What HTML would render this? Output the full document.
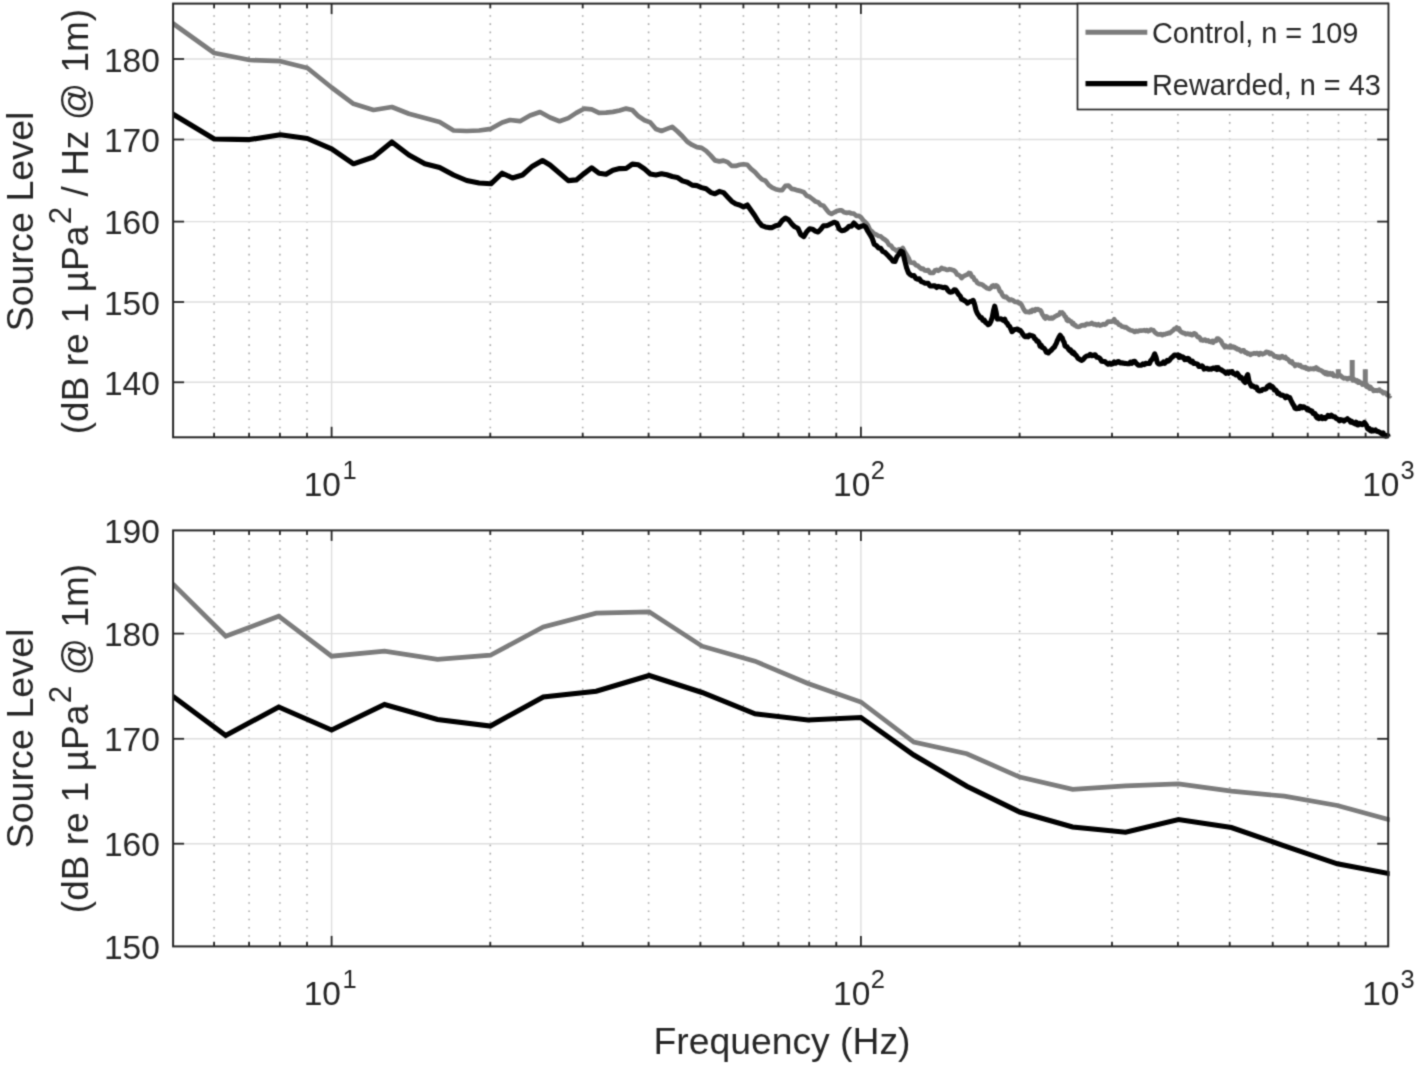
<!DOCTYPE html>
<html lang="en"><head><meta charset="utf-8"><title>Source Level vs Frequency</title>
<style>html,body{margin:0;padding:0;background:#fff}svg{display:block}</style></head>
<body>
<svg width="1416" height="1066" viewBox="0 0 1416 1066" font-family="'Liberation Sans', sans-serif" fill="#262626">
<rect width="1416" height="1066" fill="#fff"/>
<defs><filter id="soft" filterUnits="userSpaceOnUse" x="0" y="0" width="1416" height="1066" color-interpolation-filters="sRGB"><feConvolveMatrix order="3" kernelMatrix="0.032 0.114 0.032 0.114 0.416 0.114 0.032 0.114 0.032" divisor="1" edgeMode="duplicate" preserveAlpha="false"/></filter></defs>
<g filter="url(#soft)">
<rect width="1416" height="1066" fill="#fff"/>
<defs><clipPath id="ct"><rect x="173.1" y="3.6" width="1219.1" height="435.7"/></clipPath><clipPath id="cb"><rect x="173.1" y="530.4" width="1216.6" height="416.0"/></clipPath></defs>
<line x1="214.1" y1="3.6" x2="214.1" y2="437.3" stroke="#a8a8a8" stroke-width="1.6" stroke-dasharray="1.6 6.63" stroke-dashoffset="-3.30"/>
<line x1="249.1" y1="3.6" x2="249.1" y2="437.3" stroke="#a8a8a8" stroke-width="1.6" stroke-dasharray="1.6 6.63" stroke-dashoffset="-3.30"/>
<line x1="279.9" y1="3.6" x2="279.9" y2="437.3" stroke="#a8a8a8" stroke-width="1.6" stroke-dasharray="1.6 6.63" stroke-dashoffset="-3.30"/>
<line x1="307.0" y1="3.6" x2="307.0" y2="437.3" stroke="#a8a8a8" stroke-width="1.6" stroke-dasharray="1.6 6.63" stroke-dashoffset="-3.30"/>
<line x1="490.3" y1="3.6" x2="490.3" y2="437.3" stroke="#a8a8a8" stroke-width="1.6" stroke-dasharray="1.6 6.63" stroke-dashoffset="-3.30"/>
<line x1="582.7" y1="3.6" x2="582.7" y2="437.3" stroke="#a8a8a8" stroke-width="1.6" stroke-dasharray="1.6 6.63" stroke-dashoffset="-3.30"/>
<line x1="648.6" y1="3.6" x2="648.6" y2="437.3" stroke="#a8a8a8" stroke-width="1.6" stroke-dasharray="1.6 6.63" stroke-dashoffset="-3.30"/>
<line x1="700.4" y1="3.6" x2="700.4" y2="437.3" stroke="#a8a8a8" stroke-width="1.6" stroke-dasharray="1.6 6.63" stroke-dashoffset="-3.30"/>
<line x1="743.4" y1="3.6" x2="743.4" y2="437.3" stroke="#a8a8a8" stroke-width="1.6" stroke-dasharray="1.6 6.63" stroke-dashoffset="-3.30"/>
<line x1="778.4" y1="3.6" x2="778.4" y2="437.3" stroke="#a8a8a8" stroke-width="1.6" stroke-dasharray="1.6 6.63" stroke-dashoffset="-3.30"/>
<line x1="809.2" y1="3.6" x2="809.2" y2="437.3" stroke="#a8a8a8" stroke-width="1.6" stroke-dasharray="1.6 6.63" stroke-dashoffset="-3.30"/>
<line x1="836.3" y1="3.6" x2="836.3" y2="437.3" stroke="#a8a8a8" stroke-width="1.6" stroke-dasharray="1.6 6.63" stroke-dashoffset="-3.30"/>
<line x1="1019.6" y1="3.6" x2="1019.6" y2="437.3" stroke="#a8a8a8" stroke-width="1.6" stroke-dasharray="1.6 6.63" stroke-dashoffset="-3.30"/>
<line x1="1112.0" y1="3.6" x2="1112.0" y2="437.3" stroke="#a8a8a8" stroke-width="1.6" stroke-dasharray="1.6 6.63" stroke-dashoffset="-3.30"/>
<line x1="1177.9" y1="3.6" x2="1177.9" y2="437.3" stroke="#a8a8a8" stroke-width="1.6" stroke-dasharray="1.6 6.63" stroke-dashoffset="-3.30"/>
<line x1="1229.7" y1="3.6" x2="1229.7" y2="437.3" stroke="#a8a8a8" stroke-width="1.6" stroke-dasharray="1.6 6.63" stroke-dashoffset="-3.30"/>
<line x1="1272.7" y1="3.6" x2="1272.7" y2="437.3" stroke="#a8a8a8" stroke-width="1.6" stroke-dasharray="1.6 6.63" stroke-dashoffset="-3.30"/>
<line x1="1307.7" y1="3.6" x2="1307.7" y2="437.3" stroke="#a8a8a8" stroke-width="1.6" stroke-dasharray="1.6 6.63" stroke-dashoffset="-3.30"/>
<line x1="1338.5" y1="3.6" x2="1338.5" y2="437.3" stroke="#a8a8a8" stroke-width="1.6" stroke-dasharray="1.6 6.63" stroke-dashoffset="-3.30"/>
<line x1="1365.6" y1="3.6" x2="1365.6" y2="437.3" stroke="#a8a8a8" stroke-width="1.6" stroke-dasharray="1.6 6.63" stroke-dashoffset="-3.30"/>
<line x1="331.6" y1="3.6" x2="331.6" y2="437.3" stroke="#dedede" stroke-width="1.4"/>
<line x1="860.9" y1="3.6" x2="860.9" y2="437.3" stroke="#dedede" stroke-width="1.4"/>
<line x1="173.1" y1="59.0" x2="1388.2" y2="59.0" stroke="#dedede" stroke-width="1.4"/>
<line x1="173.1" y1="139.5" x2="1388.2" y2="139.5" stroke="#dedede" stroke-width="1.4"/>
<line x1="173.1" y1="221.6" x2="1388.2" y2="221.6" stroke="#dedede" stroke-width="1.4"/>
<line x1="173.1" y1="302.0" x2="1388.2" y2="302.0" stroke="#dedede" stroke-width="1.4"/>
<line x1="173.1" y1="382.3" x2="1388.2" y2="382.3" stroke="#dedede" stroke-width="1.4"/>
<g clip-path="url(#ct)" fill="none" stroke-linejoin="round" stroke-linecap="butt">
<polyline points="172.3,23.0 214.2,53.0 249.6,60.0 280.3,61.2 307.4,68.0 331.6,87.5 353.5,103.8 373.5,110.0 391.9,107.0 408.9,113.8 424.8,118.0 439.6,122.0 453.6,130.5 466.7,131.0 479.1,130.5 490.9,128.8 502.2,122.5 510.0,120.0 520.0,121.2 530.0,115.5 540.0,112.0 550.0,117.5 559.5,121.2 568.3,118.1 576.3,112.9 584.1,108.7 591.7,109.3 599.0,112.9 606.0,112.7 612.9,111.9 619.6,110.5 626.1,108.6 632.3,110.0 638.5,116.3 644.5,120.2 650.3,122.4 655.9,129.0 661.5,131.0 666.9,128.9 672.2,126.9 677.3,131.2 682.4,136.2 687.3,141.8 692.2,144.9 696.9,147.1 701.6,147.9 706.1,150.9 710.6,155.4 715.0,160.4 719.3,161.4 723.5,160.6 727.6,162.1 731.7,165.9 735.7,165.9 739.6,164.8 743.5,164.2 747.3,164.8 751.0,168.9 754.7,171.8 758.3,175.9 761.9,179.4 765.4,180.8 768.8,185.1 772.2,187.7 775.6,189.2 778.9,190.1 782.2,190.1 785.4,185.9 788.6,185.6 791.7,188.9 794.8,189.4 797.8,190.4 800.8,191.1 803.8,192.3 806.7,195.8 809.6,196.8 812.5,199.0 815.3,201.4 818.1,202.2 820.8,205.1 823.5,205.8 826.2,209.2 828.9,212.6 831.5,213.9 834.1,212.5 836.7,211.1 839.2,210.4 841.7,210.4 844.2,212.3 846.7,212.9 849.1,212.5 851.5,213.5 853.9,213.6 856.3,215.9 858.6,215.8 860.9,217.3 863.2,220.3 865.5,222.2 867.7,224.9 869.9,229.7 872.1,231.6 874.3,233.8 876.5,234.7 878.6,236.0 880.7,236.3 882.8,238.4 884.9,239.6 887.0,241.4 889.0,244.9 891.0,245.7 893.0,248.5 895.0,249.5 897.0,251.1 898.9,249.3 900.9,249.7 902.8,248.0 904.7,251.7 906.6,254.8 908.5,257.9 910.3,262.4 912.2,262.8 914.0,262.7 915.8,265.2 917.6,265.6 919.4,267.2 921.2,268.9 923.0,268.5 924.7,270.5 926.5,270.6 928.2,270.1 929.9,272.8 931.6,272.8 933.3,272.9 934.9,270.5 936.6,269.8 938.2,270.9 939.9,269.8 941.5,267.9 943.1,268.8 944.7,268.9 946.3,269.8 947.9,269.9 949.5,269.2 951.0,269.5 952.6,270.1 954.1,270.6 955.6,271.9 957.1,274.5 958.7,275.0 960.2,276.2 961.6,278.1 963.1,276.6 964.6,275.7 966.0,275.1 967.5,274.6 968.9,272.9 970.4,273.3 971.8,276.7 973.2,277.1 974.6,280.0 976.0,280.7 977.4,282.9 978.8,283.7 980.2,284.2 981.5,284.3 982.9,285.1 984.2,286.3 985.6,287.1 986.9,288.2 988.2,288.5 989.5,288.9 990.8,287.9 992.2,286.0 993.4,285.5 994.7,286.8 996.0,285.3 997.3,286.0 998.6,288.1 999.8,291.2 1001.1,292.0 1002.3,294.9 1003.6,296.7 1004.8,297.2 1006.0,296.6 1007.2,297.9 1008.4,299.0 1009.7,300.2 1010.9,299.5 1012.0,299.9 1013.2,300.4 1014.4,301.5 1015.6,302.0 1016.8,302.1 1017.9,301.8 1019.1,303.4 1020.2,303.1 1021.4,304.6 1022.5,306.8 1023.7,309.2 1024.8,310.9 1025.9,311.9 1027.0,311.8 1028.1,312.1 1029.3,312.3 1030.4,311.0 1031.5,311.8 1032.5,309.9 1033.6,310.0 1034.7,310.8 1035.8,309.1 1036.9,309.7 1037.9,309.1 1039.0,310.0 1040.0,310.0 1041.1,311.1 1042.1,314.0 1043.2,315.6 1044.2,317.3 1045.3,318.5 1046.3,316.4 1047.3,316.9 1048.3,317.8 1049.3,318.5 1050.4,318.5 1051.4,317.6 1052.4,318.4 1053.4,317.8 1054.4,316.8 1055.3,316.3 1056.3,315.8 1057.3,315.0 1058.3,315.1 1059.3,314.4 1060.2,312.5 1061.2,313.1 1062.1,312.4 1063.1,313.5 1064.1,314.8 1065.0,316.8 1065.9,317.0 1066.9,320.2 1067.8,320.9 1068.8,319.7 1069.7,320.7 1070.6,321.6 1071.5,321.7 1072.4,323.8 1073.4,323.3 1074.3,325.2 1075.2,325.0 1076.1,326.2 1077.9,326.9 1079.7,326.7 1081.4,325.4 1083.2,325.2 1084.9,325.4 1086.7,323.9 1088.4,324.1 1090.1,324.0 1091.8,322.9 1093.4,324.3 1095.1,324.1 1096.8,325.1 1098.4,324.2 1100.0,325.6 1101.6,325.1 1103.3,324.0 1104.9,324.6 1106.4,323.5 1108.0,321.6 1109.6,321.7 1111.1,321.6 1112.7,321.4 1114.2,319.2 1115.7,322.5 1117.2,322.2 1118.7,324.6 1120.2,324.9 1121.7,326.4 1123.2,326.7 1124.7,327.4 1126.1,327.2 1127.6,328.5 1129.0,329.4 1130.4,330.2 1131.8,330.5 1133.3,331.0 1134.7,331.9 1136.0,330.8 1137.4,331.5 1138.8,330.9 1140.2,330.6 1141.5,330.6 1142.9,330.5 1144.2,330.2 1145.6,330.8 1146.9,330.2 1148.2,331.3 1149.5,330.6 1150.8,329.5 1152.1,329.9 1153.4,330.3 1154.7,332.1 1156.0,333.2 1157.3,334.1 1158.5,334.4 1159.8,334.3 1161.0,334.2 1162.3,335.2 1163.5,334.2 1164.7,334.5 1166.0,333.7 1167.2,333.7 1168.4,332.9 1169.6,333.2 1170.8,332.2 1172.0,331.2 1173.2,330.3 1174.3,328.9 1175.5,328.9 1176.7,327.6 1177.8,329.3 1179.0,328.5 1180.1,330.9 1181.3,332.0 1182.4,332.5 1183.6,333.2 1184.7,333.2 1185.8,334.1 1186.9,333.9 1188.0,333.6 1189.1,334.4 1190.2,333.8 1191.3,335.1 1192.4,335.1 1193.5,333.7 1194.6,333.3 1195.7,334.1 1196.7,335.7 1197.8,337.1 1198.9,336.9 1199.9,337.9 1201.0,340.1 1202.0,339.9 1203.0,340.5 1204.1,339.8 1205.1,339.7 1206.1,340.8 1207.2,340.9 1208.2,340.4 1209.2,341.6 1210.2,341.6 1211.2,342.0 1212.2,341.0 1213.2,342.5 1214.2,340.8 1215.2,340.9 1216.2,340.8 1217.1,338.5 1218.1,338.6 1219.1,339.2 1220.0,340.3 1221.0,341.0 1222.0,343.1 1222.9,344.7 1223.9,345.8 1224.8,347.2 1225.8,345.8 1226.7,347.0 1227.6,347.1 1228.6,346.9 1229.5,347.4 1230.4,345.7 1231.3,347.3 1232.2,347.4 1233.2,346.7 1234.1,347.0 1235.0,348.2 1235.9,347.9 1237.2,349.3 1238.6,349.1 1239.9,350.3 1241.2,351.3 1242.5,350.3 1243.8,350.4 1245.1,352.6 1246.4,352.4 1247.7,353.8 1249.0,353.6 1250.3,354.8 1251.5,353.9 1252.8,353.9 1254.0,353.1 1255.3,353.6 1256.5,353.0 1257.7,353.3 1259.0,354.7 1260.2,353.1 1261.4,353.5 1262.6,354.3 1263.8,353.6 1265.0,353.3 1266.2,351.9 1267.3,352.1 1268.5,352.3 1269.7,354.0 1270.9,353.0 1272.0,353.9 1273.2,354.7 1274.3,356.5 1275.4,356.6 1276.6,356.4 1277.7,357.5 1278.8,356.7 1279.9,358.0 1281.1,356.8 1282.2,356.1 1283.3,357.3 1284.4,357.8 1285.4,357.1 1286.5,358.8 1287.6,359.1 1288.7,360.0 1289.8,361.8 1290.8,362.3 1291.9,361.5 1292.9,363.8 1294.0,364.1 1295.0,366.0 1296.1,364.6 1297.1,364.9 1298.1,364.7 1299.2,365.7 1300.2,365.2 1301.2,366.6 1302.2,367.1 1303.2,367.1 1304.2,367.7 1305.2,367.1 1306.2,368.6 1307.2,368.1 1308.2,369.3 1309.2,369.3 1310.2,368.6 1311.1,368.9 1312.1,368.8 1313.1,368.6 1314.0,369.1 1315.0,368.0 1316.0,367.5 1316.9,369.0 1317.9,368.7 1318.8,370.0 1319.7,369.8 1320.7,370.3 1321.6,370.9 1322.5,371.4 1323.5,372.6 1324.4,372.2 1325.3,373.8 1326.2,372.4 1327.1,374.4 1328.0,373.1 1328.9,374.3 1330.1,373.2 1331.3,374.5 1332.5,373.5 1333.7,375.8 1334.8,375.9 1336.0,375.8 1337.2,376.3 1338.3,374.9 1339.5,375.3 1340.6,375.6 1341.8,376.9 1342.9,377.8 1344.0,378.3 1345.1,378.0 1346.3,378.3 1347.4,379.1 1348.5,378.2 1349.6,378.2 1350.7,378.4 1351.8,378.6 1352.8,380.4 1353.9,379.2 1355.0,379.8 1356.1,381.3 1357.1,380.6 1358.2,382.6 1359.2,381.6 1360.3,382.7 1361.3,382.8 1362.4,384.6 1363.4,383.9 1364.4,384.6 1365.5,385.3 1366.5,386.7 1367.5,385.3 1368.5,387.3 1369.5,388.4 1370.5,387.1 1371.5,388.9 1372.5,389.1 1373.5,390.8 1374.5,390.3 1375.5,390.7 1376.5,390.3 1377.4,390.8 1378.4,390.1 1379.4,389.6 1380.3,391.1 1381.3,391.0 1382.2,391.8 1383.2,393.2 1384.1,392.5 1385.1,392.5 1386.0,393.2 1387.0,394.9 1387.9,395.3 1388.8,395.5 1389.7,396.1 1390.0,395.3" stroke="#7c7c7c" stroke-width="4.7"/>
<line x1="1338.3" y1="369.2" x2="1338.3" y2="376.7" stroke="#7c7c7c" stroke-width="5"/>
<line x1="1352.2" y1="360.0" x2="1352.2" y2="380.5" stroke="#7c7c7c" stroke-width="5"/>
<line x1="1365.3" y1="369.2" x2="1365.3" y2="386.2" stroke="#7c7c7c" stroke-width="5"/>
<polyline points="172.3,113.8 214.2,139.0 249.6,139.6 280.3,134.8 307.4,138.5 331.6,148.8 353.5,163.8 373.5,157.0 391.9,142.0 408.9,155.0 424.8,163.8 439.6,167.5 453.6,175.0 466.7,180.5 479.1,183.0 490.9,183.8 502.2,173.2 512.5,178.0 522.5,175.0 532.5,166.2 542.5,160.5 550.0,165.0 568.3,180.6 576.3,179.9 584.1,173.6 591.7,167.8 599.0,173.3 606.0,174.2 612.9,170.2 619.6,168.6 626.1,168.5 632.3,164.1 638.5,164.8 644.5,168.9 650.3,174.0 655.9,174.9 661.5,173.7 666.9,174.8 672.2,176.5 677.3,177.4 682.4,180.9 687.3,182.2 692.2,185.1 696.9,185.6 701.6,187.6 706.1,188.8 710.6,192.3 715.0,193.8 719.3,191.4 723.5,192.6 727.6,197.0 731.7,201.3 735.7,203.9 739.6,205.0 743.5,206.9 747.3,205.0 751.0,210.3 754.7,215.5 758.3,221.4 761.9,225.7 765.4,226.9 768.8,227.6 772.2,227.6 775.6,225.8 778.9,225.1 782.2,220.6 785.4,218.0 788.6,219.8 791.7,223.8 794.8,226.8 797.8,228.2 800.8,234.6 803.8,236.6 806.7,231.8 809.6,228.8 812.5,229.2 815.3,231.1 818.1,232.0 820.8,229.3 823.5,225.7 826.2,225.8 828.9,224.8 831.5,223.5 834.1,222.2 836.7,223.1 839.2,229.0 841.7,230.8 844.2,230.2 846.7,228.8 849.1,226.2 851.5,226.2 853.9,223.0 856.3,225.5 858.6,227.4 860.9,226.4 863.2,225.6 865.5,226.7 867.7,231.0 869.9,234.5 872.1,238.1 874.3,244.3 876.5,245.6 878.6,248.0 880.7,248.3 882.8,251.5 884.9,252.4 887.0,254.5 889.0,256.6 891.0,258.6 893.0,261.3 895.0,261.4 897.0,256.6 898.9,254.4 900.9,251.1 902.8,252.0 904.7,260.4 906.6,267.8 908.5,272.9 910.3,274.6 912.2,275.7 914.0,275.6 915.8,278.4 917.6,279.3 919.4,278.8 921.2,281.5 923.0,282.1 924.7,283.1 926.5,283.3 928.2,283.4 929.9,285.9 931.6,286.0 933.3,285.9 934.9,285.8 936.6,287.5 938.2,286.4 939.9,286.8 941.5,287.1 943.1,287.7 944.7,287.3 946.3,287.7 947.9,290.4 949.5,291.9 951.0,292.1 952.6,291.7 954.1,289.8 955.6,290.1 957.1,292.1 958.7,294.6 960.2,296.0 961.6,299.4 963.1,299.8 964.6,300.7 966.0,301.6 967.5,303.2 968.9,302.2 970.4,301.5 971.8,301.1 973.2,300.4 974.6,304.3 976.0,310.2 977.4,313.5 978.8,315.4 980.2,317.6 981.5,317.6 982.9,320.4 984.2,320.0 985.6,322.4 986.9,323.3 988.2,324.7 989.5,324.0 990.8,321.6 992.2,317.7 993.4,311.2 994.7,306.1 996.0,311.5 997.3,319.1 998.6,318.9 999.8,319.0 1001.1,318.9 1002.3,319.7 1003.6,320.4 1004.8,319.3 1006.0,322.4 1007.2,323.2 1008.4,325.5 1009.7,326.5 1010.9,329.1 1012.0,331.7 1013.2,330.8 1014.4,329.6 1015.6,329.5 1016.8,329.0 1017.9,329.2 1019.1,330.4 1020.2,330.4 1021.4,331.8 1022.5,333.7 1023.7,335.4 1024.8,336.7 1025.9,336.8 1027.0,335.9 1028.1,336.8 1029.3,335.1 1030.4,335.3 1031.5,335.8 1032.5,335.9 1033.6,336.3 1034.7,338.8 1035.8,339.3 1036.9,341.3 1037.9,341.1 1039.0,342.5 1040.0,346.1 1041.1,345.1 1042.1,347.5 1043.2,347.7 1044.2,348.5 1045.3,350.0 1046.3,352.3 1047.3,352.5 1048.3,353.0 1049.3,351.9 1050.4,350.8 1051.4,350.2 1052.4,348.9 1053.4,347.8 1054.4,347.1 1055.3,345.1 1056.3,343.5 1057.3,340.6 1058.3,338.7 1059.3,336.6 1060.2,335.3 1061.2,337.2 1062.1,337.7 1063.1,340.4 1064.1,342.2 1065.0,345.9 1065.9,346.6 1066.9,346.5 1067.8,348.0 1068.8,349.5 1069.7,350.5 1070.6,349.9 1071.5,352.1 1072.4,353.2 1073.4,352.3 1074.3,353.3 1075.2,355.0 1076.1,355.2 1077.9,358.2 1079.7,359.3 1081.4,360.4 1083.2,359.4 1084.9,357.3 1086.7,356.0 1088.4,355.8 1090.1,354.3 1091.8,355.7 1093.4,355.2 1095.1,354.8 1096.8,357.3 1098.4,357.5 1100.0,358.4 1101.6,361.2 1103.3,361.4 1104.9,361.5 1106.4,363.0 1108.0,364.2 1109.6,363.0 1111.1,364.2 1112.7,363.8 1114.2,361.9 1115.7,363.2 1117.2,362.0 1118.7,361.5 1120.2,363.0 1121.7,362.9 1123.2,363.1 1124.7,363.4 1126.1,363.5 1127.6,363.7 1129.0,363.8 1130.4,362.2 1131.8,363.3 1133.3,361.5 1134.7,361.3 1136.0,363.1 1137.4,364.3 1138.8,365.3 1140.2,365.3 1141.5,365.3 1142.9,363.9 1144.2,364.6 1145.6,363.3 1146.9,363.6 1148.2,363.4 1149.5,363.5 1150.8,360.4 1152.1,359.4 1153.4,356.8 1154.7,353.9 1156.0,357.1 1157.3,362.5 1158.5,363.9 1159.8,364.1 1161.0,363.8 1162.3,363.3 1163.5,362.0 1164.7,363.3 1166.0,361.9 1167.2,360.5 1168.4,361.2 1169.6,360.1 1170.8,358.4 1172.0,357.3 1173.2,356.4 1174.3,355.0 1175.5,355.0 1176.7,355.5 1177.8,354.9 1179.0,357.4 1180.1,355.8 1181.3,357.1 1182.4,356.8 1183.6,357.5 1184.7,359.7 1185.8,358.6 1186.9,359.6 1188.0,358.3 1189.1,359.1 1190.2,361.3 1191.3,362.0 1192.4,361.1 1193.5,363.4 1194.6,363.3 1195.7,363.6 1196.7,363.9 1197.8,364.4 1198.9,366.4 1199.9,366.3 1201.0,366.4 1202.0,365.8 1203.0,366.8 1204.1,369.0 1205.1,368.5 1206.1,368.6 1207.2,368.3 1208.2,369.3 1209.2,369.3 1210.2,368.9 1211.2,369.1 1212.2,368.6 1213.2,368.1 1214.2,368.0 1215.2,368.8 1216.2,367.6 1217.1,369.5 1218.1,367.6 1219.1,368.8 1220.0,369.3 1221.0,369.7 1222.0,370.4 1222.9,370.8 1223.9,371.7 1224.8,371.9 1225.8,373.3 1226.7,373.0 1227.6,372.0 1228.6,373.2 1229.5,371.9 1230.4,372.2 1231.3,371.8 1232.2,371.6 1233.2,373.5 1234.1,373.7 1235.0,374.2 1235.9,374.9 1237.2,373.3 1238.6,375.3 1239.9,377.8 1241.2,377.4 1242.5,379.1 1243.8,381.2 1245.1,382.5 1246.4,377.4 1247.7,374.6 1249.0,381.3 1250.3,384.0 1251.5,386.2 1252.8,385.8 1254.0,386.7 1255.3,387.4 1256.5,387.0 1257.7,390.0 1259.0,390.9 1260.2,390.9 1261.4,390.6 1262.6,389.4 1263.8,389.2 1265.0,389.3 1266.2,388.7 1267.3,386.7 1268.5,385.7 1269.7,385.1 1270.9,387.2 1272.0,386.3 1273.2,387.5 1274.3,389.9 1275.4,389.7 1276.6,391.1 1277.7,393.5 1278.8,393.1 1279.9,394.5 1281.1,395.1 1282.2,395.1 1283.3,395.7 1284.4,396.1 1285.4,397.8 1286.5,396.1 1287.6,396.6 1288.7,397.5 1289.8,397.6 1290.8,400.1 1291.9,402.2 1292.9,404.2 1294.0,405.8 1295.0,408.3 1296.1,408.8 1297.1,408.7 1298.1,407.9 1299.2,408.4 1300.2,406.4 1301.2,406.5 1302.2,407.8 1303.2,406.7 1304.2,407.0 1305.2,408.0 1306.2,408.0 1307.2,409.8 1308.2,409.0 1309.2,410.5 1310.2,410.4 1311.1,411.5 1312.1,411.2 1313.1,413.5 1314.0,413.7 1315.0,413.5 1316.0,416.3 1316.9,417.7 1317.9,416.5 1318.8,418.6 1319.7,417.7 1320.7,418.1 1321.6,416.8 1322.5,418.6 1323.5,417.8 1324.4,417.6 1325.3,418.5 1326.2,417.2 1327.1,416.9 1328.0,415.4 1328.9,416.3 1330.1,416.4 1331.3,415.1 1332.5,416.3 1333.7,416.8 1334.8,416.7 1336.0,418.3 1337.2,418.9 1338.3,419.3 1339.5,420.8 1340.6,419.6 1341.8,420.1 1342.9,420.0 1344.0,421.0 1345.1,420.0 1346.3,419.6 1347.4,418.7 1348.5,419.9 1349.6,420.2 1350.7,422.1 1351.8,421.4 1352.8,422.9 1353.9,422.9 1355.0,423.9 1356.1,422.1 1357.1,424.7 1358.2,425.0 1359.2,423.4 1360.3,423.5 1361.3,424.5 1362.4,424.6 1363.4,423.5 1364.4,422.4 1365.5,424.0 1366.5,425.4 1367.5,428.5 1368.5,429.4 1369.5,428.7 1370.5,430.8 1371.5,431.1 1372.5,430.0 1373.5,430.9 1374.5,430.8 1375.5,430.0 1376.5,431.1 1377.4,431.5 1378.4,431.6 1379.4,432.0 1380.3,432.7 1381.3,433.5 1382.2,434.1 1383.2,433.0 1384.1,435.5 1385.1,435.0 1386.0,436.1 1387.0,435.9 1387.9,435.6 1388.0,436.7" stroke="#000" stroke-width="5.1"/>
</g>
<g stroke="#262626" stroke-width="1.8">
<line x1="214.1" y1="3.6" x2="214.1" y2="8.2"/>
<line x1="214.1" y1="437.3" x2="214.1" y2="432.7"/>
<line x1="249.1" y1="3.6" x2="249.1" y2="8.2"/>
<line x1="249.1" y1="437.3" x2="249.1" y2="432.7"/>
<line x1="279.9" y1="3.6" x2="279.9" y2="8.2"/>
<line x1="279.9" y1="437.3" x2="279.9" y2="432.7"/>
<line x1="307.0" y1="3.6" x2="307.0" y2="8.2"/>
<line x1="307.0" y1="437.3" x2="307.0" y2="432.7"/>
<line x1="331.6" y1="3.6" x2="331.6" y2="14.1"/>
<line x1="331.6" y1="437.3" x2="331.6" y2="426.8"/>
<line x1="490.3" y1="3.6" x2="490.3" y2="8.2"/>
<line x1="490.3" y1="437.3" x2="490.3" y2="432.7"/>
<line x1="582.7" y1="3.6" x2="582.7" y2="8.2"/>
<line x1="582.7" y1="437.3" x2="582.7" y2="432.7"/>
<line x1="648.6" y1="3.6" x2="648.6" y2="8.2"/>
<line x1="648.6" y1="437.3" x2="648.6" y2="432.7"/>
<line x1="700.4" y1="3.6" x2="700.4" y2="8.2"/>
<line x1="700.4" y1="437.3" x2="700.4" y2="432.7"/>
<line x1="743.4" y1="3.6" x2="743.4" y2="8.2"/>
<line x1="743.4" y1="437.3" x2="743.4" y2="432.7"/>
<line x1="778.4" y1="3.6" x2="778.4" y2="8.2"/>
<line x1="778.4" y1="437.3" x2="778.4" y2="432.7"/>
<line x1="809.2" y1="3.6" x2="809.2" y2="8.2"/>
<line x1="809.2" y1="437.3" x2="809.2" y2="432.7"/>
<line x1="836.3" y1="3.6" x2="836.3" y2="8.2"/>
<line x1="836.3" y1="437.3" x2="836.3" y2="432.7"/>
<line x1="860.9" y1="3.6" x2="860.9" y2="14.1"/>
<line x1="860.9" y1="437.3" x2="860.9" y2="426.8"/>
<line x1="1019.6" y1="3.6" x2="1019.6" y2="8.2"/>
<line x1="1019.6" y1="437.3" x2="1019.6" y2="432.7"/>
<line x1="1112.0" y1="3.6" x2="1112.0" y2="8.2"/>
<line x1="1112.0" y1="437.3" x2="1112.0" y2="432.7"/>
<line x1="1177.9" y1="3.6" x2="1177.9" y2="8.2"/>
<line x1="1177.9" y1="437.3" x2="1177.9" y2="432.7"/>
<line x1="1229.7" y1="3.6" x2="1229.7" y2="8.2"/>
<line x1="1229.7" y1="437.3" x2="1229.7" y2="432.7"/>
<line x1="1272.7" y1="3.6" x2="1272.7" y2="8.2"/>
<line x1="1272.7" y1="437.3" x2="1272.7" y2="432.7"/>
<line x1="1307.7" y1="3.6" x2="1307.7" y2="8.2"/>
<line x1="1307.7" y1="437.3" x2="1307.7" y2="432.7"/>
<line x1="1338.5" y1="3.6" x2="1338.5" y2="8.2"/>
<line x1="1338.5" y1="437.3" x2="1338.5" y2="432.7"/>
<line x1="1365.6" y1="3.6" x2="1365.6" y2="8.2"/>
<line x1="1365.6" y1="437.3" x2="1365.6" y2="432.7"/>
<line x1="173.1" y1="59.0" x2="184.1" y2="59.0"/>
<line x1="1388.2" y1="59.0" x2="1377.2" y2="59.0"/>
<line x1="173.1" y1="139.5" x2="184.1" y2="139.5"/>
<line x1="1388.2" y1="139.5" x2="1377.2" y2="139.5"/>
<line x1="173.1" y1="221.6" x2="184.1" y2="221.6"/>
<line x1="1388.2" y1="221.6" x2="1377.2" y2="221.6"/>
<line x1="173.1" y1="302.0" x2="184.1" y2="302.0"/>
<line x1="1388.2" y1="302.0" x2="1377.2" y2="302.0"/>
<line x1="173.1" y1="382.3" x2="184.1" y2="382.3"/>
<line x1="1388.2" y1="382.3" x2="1377.2" y2="382.3"/>
</g>
<rect x="173.1" y="3.6" width="1215.1" height="433.7" fill="none" stroke="#262626" stroke-width="2.0"/>
<line x1="214.1" y1="530.4" x2="214.1" y2="946.4" stroke="#a8a8a8" stroke-width="1.6" stroke-dasharray="1.6 6.63" stroke-dashoffset="-1.46"/>
<line x1="249.1" y1="530.4" x2="249.1" y2="946.4" stroke="#a8a8a8" stroke-width="1.6" stroke-dasharray="1.6 6.63" stroke-dashoffset="-1.46"/>
<line x1="279.9" y1="530.4" x2="279.9" y2="946.4" stroke="#a8a8a8" stroke-width="1.6" stroke-dasharray="1.6 6.63" stroke-dashoffset="-1.46"/>
<line x1="307.0" y1="530.4" x2="307.0" y2="946.4" stroke="#a8a8a8" stroke-width="1.6" stroke-dasharray="1.6 6.63" stroke-dashoffset="-1.46"/>
<line x1="490.3" y1="530.4" x2="490.3" y2="946.4" stroke="#a8a8a8" stroke-width="1.6" stroke-dasharray="1.6 6.63" stroke-dashoffset="-1.46"/>
<line x1="582.7" y1="530.4" x2="582.7" y2="946.4" stroke="#a8a8a8" stroke-width="1.6" stroke-dasharray="1.6 6.63" stroke-dashoffset="-1.46"/>
<line x1="648.6" y1="530.4" x2="648.6" y2="946.4" stroke="#a8a8a8" stroke-width="1.6" stroke-dasharray="1.6 6.63" stroke-dashoffset="-1.46"/>
<line x1="700.4" y1="530.4" x2="700.4" y2="946.4" stroke="#a8a8a8" stroke-width="1.6" stroke-dasharray="1.6 6.63" stroke-dashoffset="-1.46"/>
<line x1="743.4" y1="530.4" x2="743.4" y2="946.4" stroke="#a8a8a8" stroke-width="1.6" stroke-dasharray="1.6 6.63" stroke-dashoffset="-1.46"/>
<line x1="778.4" y1="530.4" x2="778.4" y2="946.4" stroke="#a8a8a8" stroke-width="1.6" stroke-dasharray="1.6 6.63" stroke-dashoffset="-1.46"/>
<line x1="809.2" y1="530.4" x2="809.2" y2="946.4" stroke="#a8a8a8" stroke-width="1.6" stroke-dasharray="1.6 6.63" stroke-dashoffset="-1.46"/>
<line x1="836.3" y1="530.4" x2="836.3" y2="946.4" stroke="#a8a8a8" stroke-width="1.6" stroke-dasharray="1.6 6.63" stroke-dashoffset="-1.46"/>
<line x1="1019.6" y1="530.4" x2="1019.6" y2="946.4" stroke="#a8a8a8" stroke-width="1.6" stroke-dasharray="1.6 6.63" stroke-dashoffset="-1.46"/>
<line x1="1112.0" y1="530.4" x2="1112.0" y2="946.4" stroke="#a8a8a8" stroke-width="1.6" stroke-dasharray="1.6 6.63" stroke-dashoffset="-1.46"/>
<line x1="1177.9" y1="530.4" x2="1177.9" y2="946.4" stroke="#a8a8a8" stroke-width="1.6" stroke-dasharray="1.6 6.63" stroke-dashoffset="-1.46"/>
<line x1="1229.7" y1="530.4" x2="1229.7" y2="946.4" stroke="#a8a8a8" stroke-width="1.6" stroke-dasharray="1.6 6.63" stroke-dashoffset="-1.46"/>
<line x1="1272.7" y1="530.4" x2="1272.7" y2="946.4" stroke="#a8a8a8" stroke-width="1.6" stroke-dasharray="1.6 6.63" stroke-dashoffset="-1.46"/>
<line x1="1307.7" y1="530.4" x2="1307.7" y2="946.4" stroke="#a8a8a8" stroke-width="1.6" stroke-dasharray="1.6 6.63" stroke-dashoffset="-1.46"/>
<line x1="1338.5" y1="530.4" x2="1338.5" y2="946.4" stroke="#a8a8a8" stroke-width="1.6" stroke-dasharray="1.6 6.63" stroke-dashoffset="-1.46"/>
<line x1="1365.6" y1="530.4" x2="1365.6" y2="946.4" stroke="#a8a8a8" stroke-width="1.6" stroke-dasharray="1.6 6.63" stroke-dashoffset="-1.46"/>
<line x1="331.6" y1="530.4" x2="331.6" y2="946.4" stroke="#dedede" stroke-width="1.4"/>
<line x1="860.9" y1="530.4" x2="860.9" y2="946.4" stroke="#dedede" stroke-width="1.4"/>
<line x1="173.1" y1="633.6" x2="1388.2" y2="633.6" stroke="#dedede" stroke-width="1.4"/>
<line x1="173.1" y1="738.8" x2="1388.2" y2="738.8" stroke="#dedede" stroke-width="1.4"/>
<line x1="173.1" y1="843.7" x2="1388.2" y2="843.7" stroke="#dedede" stroke-width="1.4"/>
<g clip-path="url(#cb)" fill="none" stroke-linejoin="miter" stroke-linecap="butt">
<polyline points="172.8,583.8 225.7,636.2 278.7,616.2 331.6,656.2 384.5,651.2 437.5,659.4 490.4,655.2 543.3,627.0 596.2,613.2 649.2,611.8 702.1,646.2 755.0,661.2 808.0,683.5 860.9,702.0 913.8,742.0 966.8,753.8 1019.7,777.0 1072.6,789.4 1125.6,785.8 1178.5,783.8 1231.4,791.2 1284.3,796.2 1337.3,805.5 1390.2,820.0" stroke="#7c7c7c" stroke-width="4.7"/>
<polyline points="172.8,696.2 225.7,735.5 278.7,707.0 331.6,730.0 384.5,704.5 437.5,719.5 490.4,726.0 543.3,697.0 596.2,691.2 649.2,675.5 702.1,692.5 755.0,713.8 808.0,720.0 860.9,717.5 913.8,755.0 966.8,786.2 1019.7,812.0 1072.6,827.0 1125.6,832.2 1178.5,819.5 1231.4,827.5 1284.3,845.8 1337.3,863.8 1390.2,873.8" stroke="#000" stroke-width="5.1"/>
</g>
<g stroke="#262626" stroke-width="1.8">
<line x1="214.1" y1="530.4" x2="214.1" y2="535.0"/>
<line x1="214.1" y1="946.4" x2="214.1" y2="941.8"/>
<line x1="249.1" y1="530.4" x2="249.1" y2="535.0"/>
<line x1="249.1" y1="946.4" x2="249.1" y2="941.8"/>
<line x1="279.9" y1="530.4" x2="279.9" y2="535.0"/>
<line x1="279.9" y1="946.4" x2="279.9" y2="941.8"/>
<line x1="307.0" y1="530.4" x2="307.0" y2="535.0"/>
<line x1="307.0" y1="946.4" x2="307.0" y2="941.8"/>
<line x1="331.6" y1="530.4" x2="331.6" y2="540.9"/>
<line x1="331.6" y1="946.4" x2="331.6" y2="935.9"/>
<line x1="490.3" y1="530.4" x2="490.3" y2="535.0"/>
<line x1="490.3" y1="946.4" x2="490.3" y2="941.8"/>
<line x1="582.7" y1="530.4" x2="582.7" y2="535.0"/>
<line x1="582.7" y1="946.4" x2="582.7" y2="941.8"/>
<line x1="648.6" y1="530.4" x2="648.6" y2="535.0"/>
<line x1="648.6" y1="946.4" x2="648.6" y2="941.8"/>
<line x1="700.4" y1="530.4" x2="700.4" y2="535.0"/>
<line x1="700.4" y1="946.4" x2="700.4" y2="941.8"/>
<line x1="743.4" y1="530.4" x2="743.4" y2="535.0"/>
<line x1="743.4" y1="946.4" x2="743.4" y2="941.8"/>
<line x1="778.4" y1="530.4" x2="778.4" y2="535.0"/>
<line x1="778.4" y1="946.4" x2="778.4" y2="941.8"/>
<line x1="809.2" y1="530.4" x2="809.2" y2="535.0"/>
<line x1="809.2" y1="946.4" x2="809.2" y2="941.8"/>
<line x1="836.3" y1="530.4" x2="836.3" y2="535.0"/>
<line x1="836.3" y1="946.4" x2="836.3" y2="941.8"/>
<line x1="860.9" y1="530.4" x2="860.9" y2="540.9"/>
<line x1="860.9" y1="946.4" x2="860.9" y2="935.9"/>
<line x1="1019.6" y1="530.4" x2="1019.6" y2="535.0"/>
<line x1="1019.6" y1="946.4" x2="1019.6" y2="941.8"/>
<line x1="1112.0" y1="530.4" x2="1112.0" y2="535.0"/>
<line x1="1112.0" y1="946.4" x2="1112.0" y2="941.8"/>
<line x1="1177.9" y1="530.4" x2="1177.9" y2="535.0"/>
<line x1="1177.9" y1="946.4" x2="1177.9" y2="941.8"/>
<line x1="1229.7" y1="530.4" x2="1229.7" y2="535.0"/>
<line x1="1229.7" y1="946.4" x2="1229.7" y2="941.8"/>
<line x1="1272.7" y1="530.4" x2="1272.7" y2="535.0"/>
<line x1="1272.7" y1="946.4" x2="1272.7" y2="941.8"/>
<line x1="1307.7" y1="530.4" x2="1307.7" y2="535.0"/>
<line x1="1307.7" y1="946.4" x2="1307.7" y2="941.8"/>
<line x1="1338.5" y1="530.4" x2="1338.5" y2="535.0"/>
<line x1="1338.5" y1="946.4" x2="1338.5" y2="941.8"/>
<line x1="1365.6" y1="530.4" x2="1365.6" y2="535.0"/>
<line x1="1365.6" y1="946.4" x2="1365.6" y2="941.8"/>
<line x1="173.1" y1="633.6" x2="184.1" y2="633.6"/>
<line x1="1388.2" y1="633.6" x2="1377.2" y2="633.6"/>
<line x1="173.1" y1="738.8" x2="184.1" y2="738.8"/>
<line x1="1388.2" y1="738.8" x2="1377.2" y2="738.8"/>
<line x1="173.1" y1="843.7" x2="184.1" y2="843.7"/>
<line x1="1388.2" y1="843.7" x2="1377.2" y2="843.7"/>
</g>
<rect x="173.1" y="530.4" width="1215.1" height="416.0" fill="none" stroke="#262626" stroke-width="2.0"/>
<g font-size="33.5" text-anchor="end">
<text x="159.8" y="71.5">180</text>
<text x="159.8" y="152.0">170</text>
<text x="159.8" y="234.1">160</text>
<text x="159.8" y="314.5">150</text>
<text x="159.8" y="394.8">140</text>
<text x="159.8" y="542.9">190</text>
<text x="159.8" y="646.1">180</text>
<text x="159.8" y="751.3">170</text>
<text x="159.8" y="856.2">160</text>
<text x="159.8" y="958.9">150</text>
</g>
<g font-size="33.5">
<text x="303.7" y="496.3">10<tspan font-size="25.5" dx="1.6" dy="-17">1</tspan></text>
<text x="833.1" y="496.3">10<tspan font-size="25.5" dx="0.5" dy="-17">2</tspan></text>
<text x="1362.2" y="496.3">10<tspan font-size="25.5" dx="1.0" dy="-17">3</tspan></text>
<text x="303.7" y="1004.5">10<tspan font-size="25.5" dx="1.6" dy="-17">1</tspan></text>
<text x="833.1" y="1004.5">10<tspan font-size="25.5" dx="0.5" dy="-17">2</tspan></text>
<text x="1362.2" y="1004.5">10<tspan font-size="25.5" dx="1.0" dy="-17">3</tspan></text>
</g>
<text x="782" y="1053.7" font-size="37.3" text-anchor="middle">Frequency (Hz)</text>
<text transform="translate(32.8,221.5) rotate(-90)" font-size="37.7" text-anchor="middle">Source Level</text>
<text transform="translate(87.7,221.5) rotate(-90)" font-size="37.0" text-anchor="middle">(dB re 1 µPa<tspan font-size="31.5" dx="1.5" dy="-17">2</tspan><tspan dy="17"> / Hz @ 1m)</tspan></text>
<text transform="translate(32.8,738.5) rotate(-90)" font-size="37.7" text-anchor="middle">Source Level</text>
<text transform="translate(87.7,738.5) rotate(-90)" font-size="37.0" text-anchor="middle">(dB re 1 µPa<tspan font-size="31.5" dx="1.5" dy="-17">2</tspan><tspan dy="17"> @ 1m)</tspan></text>
<rect x="1077.5" y="3.6" width="310.9" height="105.9" fill="#fff" stroke="#262626" stroke-width="1.7"/>
<line x1="1085.5" y1="32.2" x2="1147.3" y2="32.2" stroke="#7c7c7c" stroke-width="4.9"/>
<line x1="1085.5" y1="83.7" x2="1147.3" y2="83.7" stroke="#000" stroke-width="5.2"/>
<text x="1152" y="43" font-size="28.9">Control, n = 109</text>
<text x="1152" y="94.5" font-size="28.9">Rewarded, n = 43</text>
</g>
</svg>
</body></html>
